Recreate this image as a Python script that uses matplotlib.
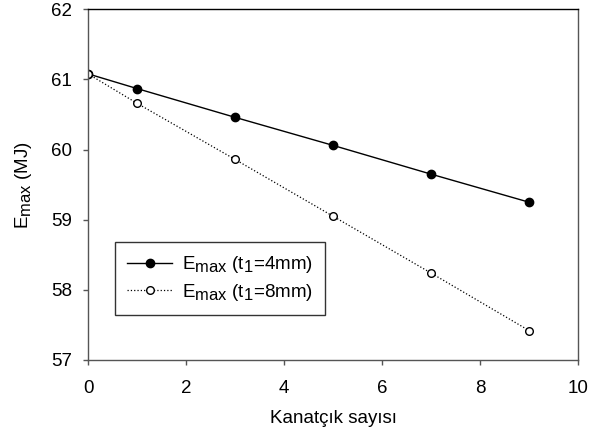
import matplotlib
matplotlib.use('Agg')
import matplotlib.pyplot as plt

# subscripts in the original are nearly full size
try:
    import matplotlib._mathtext as _mt
    _mt.SHRINK_FACTOR = 0.88
except Exception:
    pass

plt.rcParams['font.family'] = ['Liberation Sans', 'DejaVu Sans']

# data
kanatcik = [0, 1, 3, 5, 7, 9]
emax_t4 = [61.08, 60.87, 60.46, 60.06, 59.65, 59.25]
emax_t8 = [61.08, 60.66, 59.86, 59.05, 58.24, 57.42]

labels = ['E$_{\\mathregular{max}}$ (t$_{\\mathregular{1}}$=4mm)',
          'E$_{\\mathregular{max}}$ (t$_{\\mathregular{1}}$=8mm)']

fig = plt.figure(figsize=(6.01, 4.36), dpi=100)
ax = fig.add_axes([88/601, 1-360/436, (578-88)/601, (360-9.3)/436])

ax.plot(kanatcik, emax_t4, '-', color='black', lw=1.0,
        marker='o', ms=6, mfc='black', mec='black', label=labels[0])
ax.plot(kanatcik, emax_t8, ':', color='black', lw=0.9,
        marker='o', ms=5.5, mfc='white', mec='black', mew=1.0, label=labels[1])

ax.set_xlim(0, 10)
ax.set_ylim(57, 62)
ax.set_xticks([0, 2, 4, 6, 8, 10])
ax.set_yticks([57, 58, 59, 60, 61, 62])
ax.tick_params(direction='out', length=3.6, width=1, labelsize=13.5,
               color='#555555', top=False, right=False)
ax.tick_params(axis='x', pad=10.5)
ax.tick_params(axis='y', pad=8)
for s in ax.spines.values():
    s.set_color('#555555')
    s.set_linewidth(1.0)
ax.spines['top'].set_color('black')

ax.set_xlabel('Kanatçık sayısı', fontsize=13.5, labelpad=10)
ax.set_ylabel('E$_{\\mathregular{max}}$ (MJ)', fontsize=13.5, labelpad=12)

leg = ax.legend(loc='lower left', bbox_to_anchor=(0.055, 0.128), fontsize=13.5,
                frameon=True, fancybox=False, edgecolor='black',
                handlelength=2.4, borderpad=0.65, labelspacing=0.35,
                handletextpad=0.55, borderaxespad=0)
leg.get_frame().set_linewidth(1.0)

plt.savefig('out.png', dpi=100)
